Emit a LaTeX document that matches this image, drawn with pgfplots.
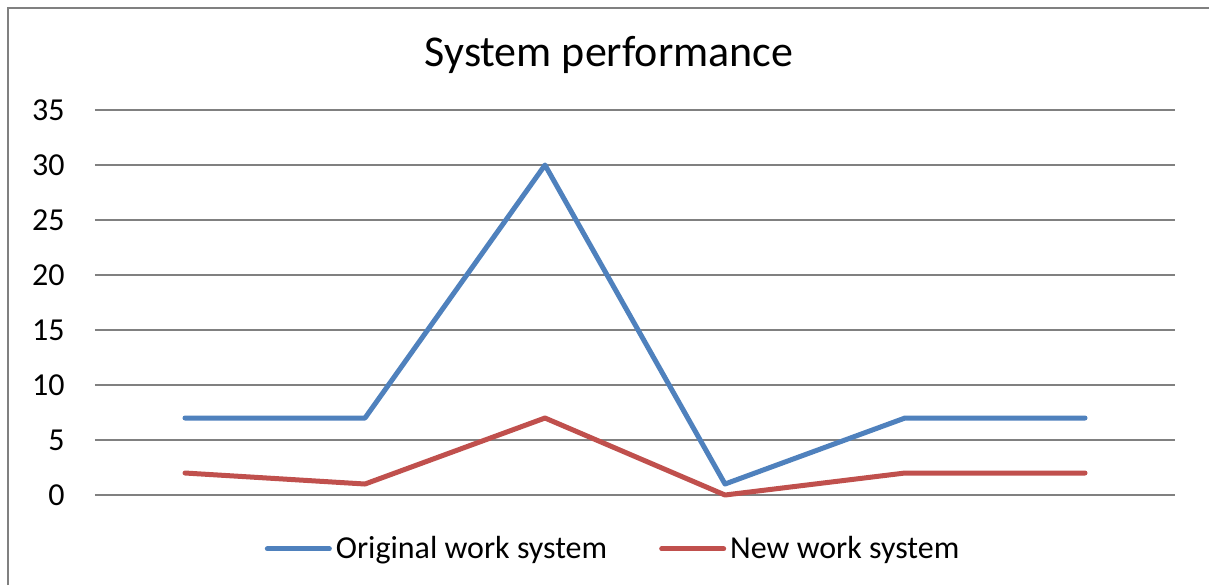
\documentclass[border=0pt]{standalone}
\usepackage{pgfplots}
\pgfplotsset{compat=1.18}
\usepackage{fontspec}
\setmainfont{Carlito}
\definecolor{xlblue}{RGB}{79,129,189}
\definecolor{xlred}{RGB}{192,80,77}
\begin{document}
\begin{tikzpicture}
\path[use as bounding box] (0,0) rectangle (604.5pt,-292.5pt);
\fill[white] (0,0) rectangle (604.5pt,-292.5pt);
\draw[line width=1.2pt, black!50] (4pt,-292.5pt) -- (4pt,-4pt) -- (604.5pt,-4pt);
\node[font=\fontsize{22}{26}\selectfont] at (304.5pt,-27.5pt) {System performance};
\begin{axis}[
  at={(47.5pt,-247.5pt)}, anchor=south west,
  scale only axis, width=540pt, height=192.5pt,
  xmin=-0.5, xmax=5.5, ymin=0, ymax=35,
  ytick={0,5,...,35}, xtick=\empty,
  axis line style={draw=none},
  major tick length=0pt,
  ymajorgrids, grid style={black!50, line width=0.7pt},
  yticklabel style={anchor=east, inner sep=0pt, xshift=-15pt, font=\fontsize{16}{19}\selectfont},
  /pgf/number format/assume math mode=true,
  legend columns=2,
  legend style={at={(0.4806,-0.14)}, anchor=center, draw=none, fill=none,
    font=\fontsize{16}{19}\selectfont,
    /tikz/every even column/.append style={column sep=24pt}},
  legend image code/.code={\draw[#1, line cap=round] (0pt,0pt) -- (31pt,0pt);},
  clip=false,
]
\addplot[xlblue, line width=2.5pt, line join=round, line cap=round] coordinates {(0,7) (1,7) (2,30) (3,1) (4,7) (5,7)};
\addlegendentry{Original work system}
\addplot[xlred, line width=2.5pt, line join=round, line cap=round] coordinates {(0,2) (1,1) (2,7) (3,0) (4,2) (5,2)};
\addlegendentry{New work system}
\end{axis}
\end{tikzpicture}
\end{document}
